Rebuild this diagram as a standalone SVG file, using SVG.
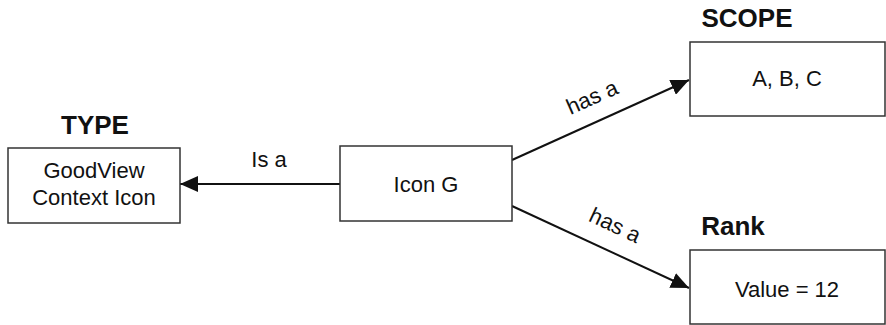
<svg xmlns="http://www.w3.org/2000/svg" width="886" height="325" viewBox="0 0 886 325">
  <defs>
    <marker id="arrow" viewBox="0 0 18 16" refX="18" refY="8" markerWidth="18" markerHeight="16" markerUnits="userSpaceOnUse" orient="auto">
      <path d="M0,0 L18,8 L0,16 Z" fill="#111"/>
    </marker>
    <style>
      .box { fill: #fff; stroke: #333; stroke-width: 1.5; }
      .txt { font-family: "Liberation Sans", Arial, sans-serif; font-size: 22px; fill: #111; text-anchor: middle; }
      .title { font-family: "Liberation Sans", Arial, sans-serif; font-size: 26px; font-weight: bold; fill: #111; text-anchor: middle; }
      .edge { stroke: #111; stroke-width: 2; fill: none; marker-end: url(#arrow); }
    </style>
  </defs>
  <rect width="886" height="325" fill="#fff"/>

  <g id="connectors">
    <line class="edge" x1="340" y1="184" x2="180" y2="184"/>
    <line class="edge" x1="512" y1="160" x2="689" y2="80"/>
    <line class="edge" x1="512" y1="206" x2="689" y2="288"/>
    <text class="txt" x="269" y="167">Is a</text>
    <text class="txt" x="595" y="104" transform="rotate(-24 595 104)">has a</text>
    <text class="txt" x="612" y="232" transform="rotate(25 612 232)">has a</text>
  </g>

  <g id="type">
    <text class="title" x="95" y="134">TYPE</text>
    <rect class="box" x="8" y="148" width="172" height="75"/>
    <text class="txt" x="94" y="178">GoodView</text>
    <text class="txt" x="94" y="205">Context Icon</text>
  </g>

  <g id="icon-g">
    <rect class="box" x="340" y="146" width="172" height="75"/>
    <text class="txt" x="426" y="192">Icon G</text>
  </g>

  <g id="scope">
    <text class="title" x="747" y="27">SCOPE</text>
    <rect class="box" x="690" y="42" width="195" height="74"/>
    <text class="txt" x="787" y="86">A, B, C</text>
  </g>

  <g id="rank">
    <text class="title" x="733" y="235">Rank</text>
    <rect class="box" x="690" y="250" width="195" height="74"/>
    <text class="txt" x="787" y="297">Value = 12</text>
  </g>
</svg>
